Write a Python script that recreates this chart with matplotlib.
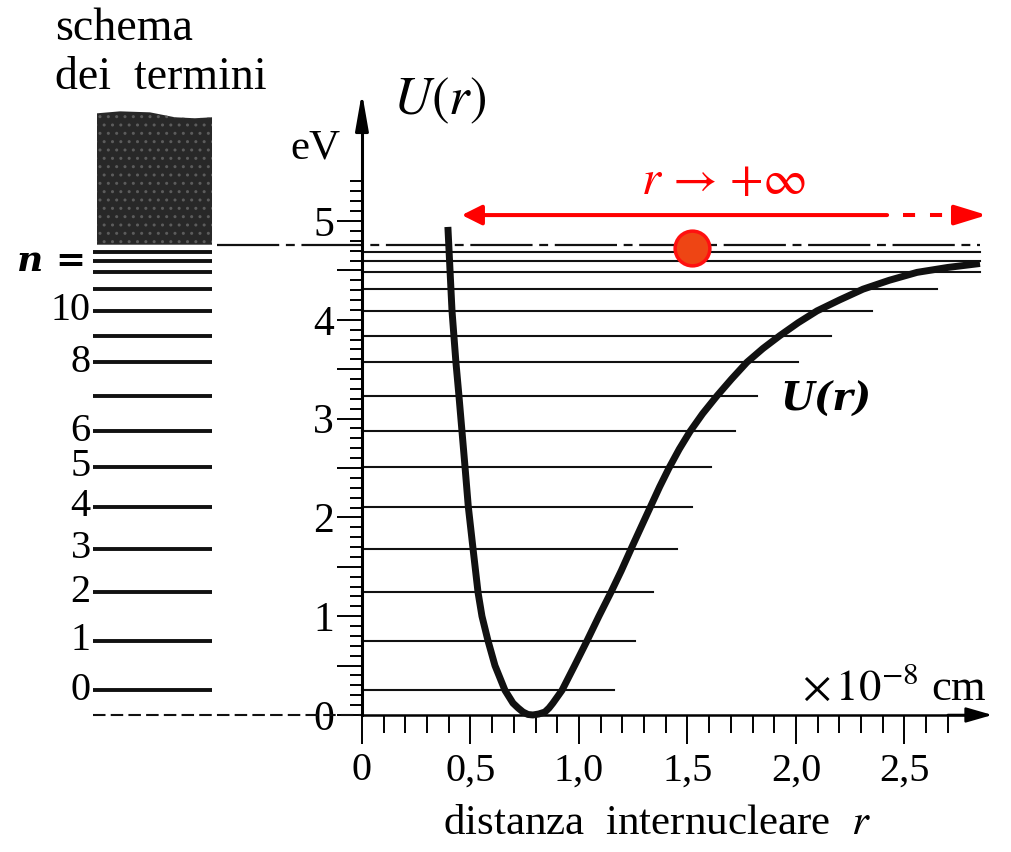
import numpy as np
import matplotlib
matplotlib.use('Agg')
import matplotlib.pyplot as plt

plt.rcParams['font.family'] = ['Liberation Serif', 'DejaVu Serif']

# potenziale U(r) (r in 1e-8 cm, U in eV)
r_curve = [0.396, 0.415, 0.433, 0.447, 0.461, 0.475, 0.490, 0.512, 0.535, 0.553,
           0.581, 0.613, 0.659, 0.696, 0.720, 0.742, 0.765, 0.788, 0.815, 0.843,
           0.862, 0.880, 0.922, 0.980, 1.037, 1.092, 1.147, 1.195, 1.242, 1.288,
           1.330, 1.372, 1.415, 1.462, 1.512, 1.570, 1.636, 1.703, 1.774, 1.848,
           1.926, 2.010, 2.097, 2.200, 2.309, 2.430, 2.558, 2.700, 2.848]
U_curve = [4.94, 4.09, 3.57, 3.23, 2.87, 2.51, 2.11, 1.68, 1.24, 1.00,
           0.75, 0.50, 0.25, 0.12, 0.07, 0.03, 0.005, 0.00, 0.01, 0.03,
           0.07, 0.12, 0.25, 0.50, 0.75, 1.00, 1.24, 1.46, 1.69, 1.91,
           2.11, 2.31, 2.50, 2.69, 2.87, 3.05, 3.23, 3.40, 3.57, 3.71,
           3.84, 3.97, 4.09, 4.20, 4.31, 4.40, 4.48, 4.53, 4.57]

# livelli vibrazionali
level_U = [0.25, 0.75, 1.24, 1.68, 2.11, 2.51, 2.87, 3.23, 3.57, 3.84,
           4.09, 4.31, 4.48, 4.60, 4.69]
level_r_end = [1.16, 1.26, 1.34, 1.45, 1.52, 1.61, 1.72, 1.82, 2.01, 2.16,
               2.35, 2.65, 2.85, 2.85, 2.85]
U_diss = 4.76

# etichette dello schema dei termini
n_labels = ['0', '1', '2', '3', '4', '5', '6', '8', '10']
n_levels = [0, 1, 2, 3, 4, 5, 6, 8, 10]

# bordo superiore della zona continua (ombreggiata)
shade_r = [-1.221, -1.115, -0.977, -0.862, -0.770, -0.691]
shade_top = [6.09, 6.11, 6.10, 6.05, 6.04, 6.05]

x_ticks = [0, 0.5, 1.0, 1.5, 2.0, 2.5]
x_ticklabels = ['0', '0,5', '1,0', '1,5', '2,0', '2,5']
y_ticks = [0, 0.5, 1, 1.5, 2, 2.5, 3, 3.5, 4, 4.5, 5]
y_ticklabels = ['0', '', '1', '', '2', '', '3', '', '4', '', '5']

# particella e freccia rossa
r_dot, U_dot = 1.52, 4.73
U_arrow = 5.06

fig = plt.figure(figsize=(10.11, 8.52), dpi=100)
ax = fig.add_axes([0, 0, 1, 1])
ax.set_xlim(-1.668, 2.991)
ax.set_ylim(-1.387, 7.237)

# assi
for s in ['top', 'right']:
    ax.spines[s].set_visible(False)
ax.spines['left'].set_position(('data', 0))
ax.spines['bottom'].set_position(('data', 0))
ax.spines['left'].set_bounds(0, 6.1)
ax.spines['bottom'].set_bounds(0, 2.8)
ax.spines['left'].set_linewidth(2.2)
ax.spines['bottom'].set_linewidth(1.8)

ax.set_xticks(x_ticks)
ax.set_xticklabels(x_ticklabels)
ax.set_xticks(np.arange(0, 2.75, 0.1), minor=True)
ax.set_yticks(y_ticks)
ax.set_yticklabels(y_ticklabels)
ax.set_yticks(np.arange(0, 5.45, 0.1), minor=True)
ax.tick_params(axis='x', which='major', direction='out', length=21, width=1.4,
               labelsize=29, pad=6)
ax.tick_params(axis='x', which='minor', direction='out', length=13, width=1.4)
ax.tick_params(axis='y', which='major', direction='out', length=18, width=1.4,
               labelsize=30, pad=2)
ax.tick_params(axis='y', which='minor', direction='out', length=9, width=1.4)

ax.annotate('', xy=(0, 6.30), xytext=(0, 5.9),
            arrowprops=dict(arrowstyle='-|>,head_length=0.8,head_width=0.14',
                            color='black', lw=2.2, mutation_scale=28,
                            shrinkA=0, shrinkB=0))
ax.annotate('', xy=(2.905, 0), xytext=(2.7, 0),
            arrowprops=dict(arrowstyle='-|>,head_length=0.8,head_width=0.23',
                            color='black', lw=1.8, mutation_scale=20,
                            shrinkA=0, shrinkB=0))

# livelli a destra
for u, re in zip(level_U, level_r_end):
    ax.plot([0, re], [u, u], color='#111111', lw=1.5, zorder=2)
ax.plot([-0.668, 2.85], [U_diss, U_diss], color='#111111', lw=1.6,
        linestyle=(0, (28, 3, 4, 3)), zorder=2)
ax.plot([-1.24, 0], [0, 0], color='#111111', lw=1.5,
        linestyle=(0, (6, 2.5)), zorder=2)

# schema dei termini a sinistra
for u in level_U:
    ax.plot([-1.238, -0.692], [u, u], color='#111111', lw=2.8,
            solid_capstyle='butt')
ax.fill_between(shade_r, U_diss, shade_top, facecolor='#282828',
                edgecolor='#5c5c5c', hatch='..', linewidth=0)
for lab, i in zip(n_labels, n_levels):
    ax.text(-1.25, level_U[i], lab, fontsize=29, ha='right', va='center')
ax.text(-1.27, 4.60, 'n =', fontsize=26, ha='right', va='center',
        family='DejaVu Serif', fontweight='bold', fontstyle='italic')
ax.text(-1.415, 6.95, 'schema', fontsize=33, ha='left', va='center')
ax.text(-1.415, 6.45, 'dei  termini', fontsize=33, ha='left', va='center')

# curva del potenziale
ax.plot(r_curve, U_curve, color='#111111', lw=5, zorder=4,
        solid_capstyle='butt', solid_joinstyle='round')
ax.text(2.14, 3.19, 'U(r)', fontsize=28, ha='center', va='center',
        family='DejaVu Serif', fontweight='bold', fontstyle='italic')

# testi degli assi
ax.text(-0.10, 5.74, 'eV', fontsize=31, ha='right', va='center')
ax.text(0.359, 6.22, r'$U(r)$', fontsize=38, ha='center', va='center',
        math_fontfamily='stix')
ax.text(2.03, 0.27, r'$\times\,10^{-8}$ cm', fontsize=32, ha='left',
        va='center', math_fontfamily='stix')
ax.text(1.36, -1.10, r'distanza  internucleare  $r$', fontsize=31,
        ha='center', va='center', math_fontfamily='stix')

# freccia rossa r -> +inf
ax.annotate('', xy=(0.46, U_arrow), xytext=(2.42, U_arrow),
            arrowprops=dict(arrowstyle='-|>,head_length=0.4,head_width=0.2',
                            color='#ff0000', lw=2.9, mutation_scale=30,
                            shrinkA=0, shrinkB=0))
ax.plot([2.495, 2.75], [U_arrow, U_arrow], color='#ff0000', lw=2.9,
        linestyle=(0, (3, 3.7)))
ax.annotate('', xy=(2.88, U_arrow), xytext=(2.77, U_arrow),
            arrowprops=dict(arrowstyle='-|>,head_length=0.65,head_width=0.2',
                            color='#ff0000', lw=2.9, mutation_scale=30,
                            shrinkA=0, shrinkB=0))
ax.text(1.664, 5.39, r'$r$ → +∞', fontsize=35, color='#ff0000',
        ha='center', va='center', family='STIXGeneral', math_fontfamily='stix')
ax.plot([r_dot], [U_dot], 'o', markersize=25, markerfacecolor='#ee4514',
        markeredgecolor='#ff1010', markeredgewidth=2.5, zorder=6)

fig.savefig('out.png', dpi=100)
